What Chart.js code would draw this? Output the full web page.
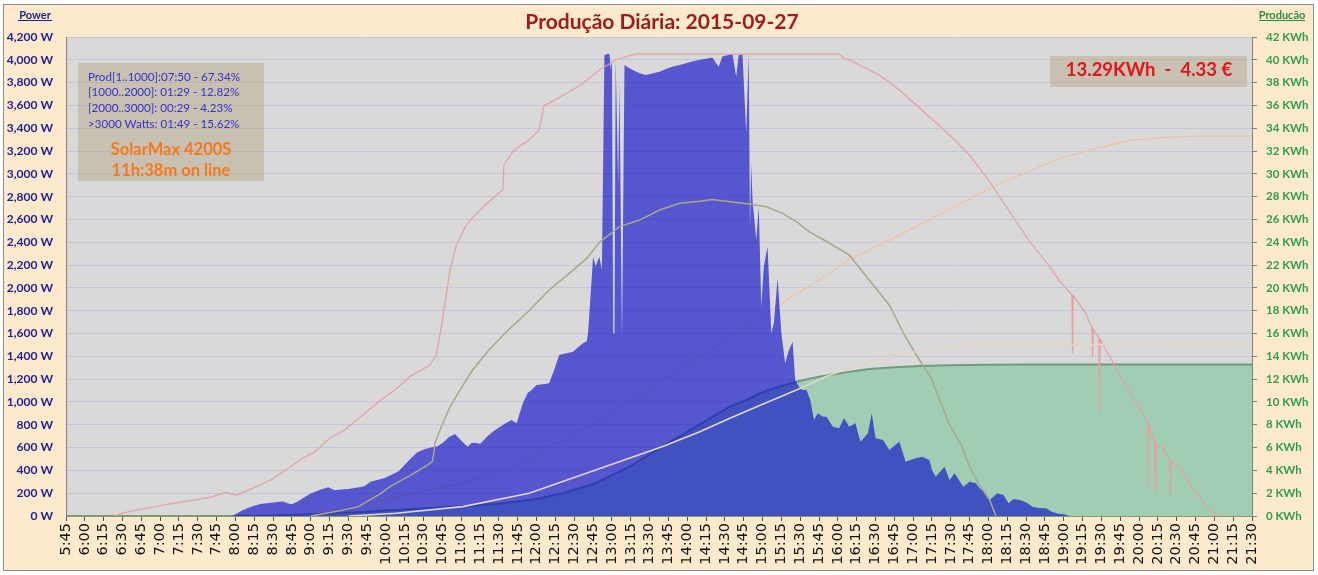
<!DOCTYPE html>
<html>
<head>
<meta charset="utf-8">
<script src="https://cdn.jsdelivr.net/npm/chart.js@4/dist/chart.umd.min.js"></script>
<style>
  body { margin: 0; background: #fff; }
</style>
</head>
<body>
<canvas id="chart" width="1318" height="575"></canvas>
<script>
// power (W) - left axis
var powerTimes = ['7:57','8:00','8:05','8:10','8:15','8:20','8:25','8:30','8:35','8:38','8:42','8:45','8:50','8:55',
  '9:00','9:05','9:10','9:14','9:19','9:24','9:30','9:35','9:40','9:43','9:48','9:53','9:59',
  '10:04','10:10','10:15','10:20','10:25','10:31','10:36','10:41','10:45','10:50','10:55',
  '11:00','11:05','11:08','11:11','11:15','11:20','11:25','11:30','11:35','11:40','11:44','11:49','11:53','11:56',
  '12:00','12:05','12:10','12:14','12:18','12:23','12:29','12:33','12:37','12:40','12:41','12:45','12:47','12:50','12:52','12:54','12:56','12:58','12:59',
  '13:00','13:01','13:02','13:03','13:05','13:06','13:08','13:10','13:15','13:22','13:27','13:32','13:38','13:43','13:48','13:54','13:59',
  '14:04','14:10','14:15','14:20','14:25','14:28','14:32','14:36','14:39','14:41','14:44','14:47','14:49','14:50','14:51','14:52','14:55','14:57','14:59',
  '15:01','15:04','15:07','15:09','15:12','15:15','15:18','15:21','15:24','15:26','15:29','15:32','15:35','15:38','15:41','15:44','15:48','15:51','15:56',
  '16:01','16:05','16:09','16:14','16:18','16:24','16:27','16:30','16:36','16:41','16:49','16:54',
  '17:02','17:07','17:13','17:15','17:18','17:25','17:29','17:33','17:40','17:45','17:50','17:53','17:58',
  '18:01','18:07','18:12','18:16','18:20','18:25','18:30','18:35','18:40','18:46','18:50','18:55','19:00','19:05'];
var powerWatts = [0,15,45,70,90,105,112,118,124,127,110,102,130,165,
  198,220,240,252,226,232,237,245,255,262,302,315,333,
  360,392,450,508,560,588,600,612,640,690,720,
  660,608,640,643,631,690,739,775,810,842,813,988,1080,1105,
  1149,1155,1163,1280,1412,1425,1441,1480,1514,1535,1604,2274,2190,2274,2157,4040,4050,4050,3911,
  4000,1600,1600,4000,2900,3800,1543,3955,3920,3882,3867,3880,3896,3920,3940,3955,3970,
  3985,4000,4010,4020,3940,4030,4040,4050,3852,4040,4050,3355,4050,2508,3093,2771,2420,2712,1835,
  2186,2361,1604,1690,2084,1604,1339,1456,1528,1192,1134,1105,1105,1017,842,900,871,870,783,
  769,857,783,813,652,725,900,681,666,579,652,476,
  506,520,491,403,345,432,316,374,257,300,287,243,199,
  140,199,184,111,150,140,120,82,70,67,40,23,15,0];

// max power record (W) - left axis
var maxTimes = ['6:24','6:30','6:45','7:00','7:10','7:20','7:31','7:42','7:50','7:53','7:57','8:01','8:10','8:28','8:40','8:51',
  '9:03','9:15','9:27','9:43','9:55','10:07','10:20','10:35','10:40','10:45','10:51','10:56','11:04','11:15','11:28','11:33','11:34','11:42','11:54',
  '12:02','12:06','12:10','12:24','12:37','12:50','13:03','13:18','16:01','16:05','16:09','16:25','16:33','16:49','17:05','17:13','17:15','17:29','17:45',
  '18:00','18:16','18:32','18:48','18:56','19:06.5','19:07','19:07.5','19:17.5','19:22.5','19:23','19:23.5','19:28','19:28.5','19:29','19:39','19:44','19:52',
  '20:00','20:03','20:07','20:07.5','20:08','20:10','20:12.5','20:13','20:13.5','20:15','20:18.6','20:24.5','20:25','20:25.5','20:28','20:32','20:42','20:48','20:50','20:58','21:03'];
var maxWatts = [0,25,60,90,111,128,146,170,200,208,190,184,225,316,400,491,
  560,681,754,900,1010,1105,1230,1324,1411,1718,2157,2376,2552,2683,2815,2858,3078,3209,3297,
  3385,3600,3620,3706,3794,3911,3998,4050,4050,4013,4000,3911,3867,3735,3580,3499,3480,3341,3165,
  2946,2683,2420,2201,2070,1940,1426,1935,1777,1650,1397,1640,1560,900,1550,1353,1250,1105,
  950,900,810,257,790,720,650,228,640,600,608,480,190,470,455,430,257,169,140,38,0];

// average power (W) - left axis
var avgTimes = ['9:00','9:20','9:38','9:56','10:03','10:20','10:33','10:37','10:38','10:39','10:44','10:51','10:59','11:09','11:22','11:36','11:53',
  '12:10','12:26','12:40','12:50','13:06','13:22','13:38','13:54','14:10','14:20','14:28','14:49','15:03','15:16','15:27','15:37','15:49',
  '16:09','16:25','16:41','16:53','17:05','17:14','17:29','17:39','17:45','17:52','18:01','18:06'];
var avgWatts = [0,40,82,199,257,360,447,480,550,640,783,958,1105,1280,1456,1616,1791,
  1982,2128,2259,2400,2537,2595,2683,2742,2760,2775,2765,2736,2712,2654,2581,2493,2420,
  2289,2070,1850,1587,1368,1220,800,608,432,287,140,0];

// energy produced today (KWh) - right axis
var prodTimes = ['5:45','8:00','8:30','9:00','9:15','9:45','10:00','10:35','11:00','11:28','12:00','12:21','12:47','13:14','13:40','14:07','14:34','14:47',
  '15:00','15:13','15:27','15:40','15:53','16:10','16:25','16:45','17:05','17:30','18:00','18:30','21:30'];
var prodKwh = [0,0,0.05,0.15,0.22,0.38,0.48,0.7,0.85,1.05,1.5,2.0,2.87,4.32,6.08,7.83,9.58,10.17,
  10.85,11.34,11.78,12.1,12.36,12.65,12.89,13.05,13.15,13.22,13.27,13.29,13.29];

// max energy record (KWh) - right axis
var maxProdTimes = ['9:00','9:10','9:19','9:45','10:10','10:35','11:02','11:28','11:55','12:21','12:47','13:14','13:40','14:10','14:31','15:10','15:49',
  '16:09','16:49','17:29','18:08','18:48','19:01','19:28','19:55','20:20','20:48','21:30'];
var maxProdKwh = [0,0.2,0.5,1.1,1.7,2.28,2.9,3.74,5.1,6.66,8.25,9.88,11.92,13.97,15.43,18.3,20.98,
  22.45,24.6,26.9,29.1,30.95,31.5,32.3,32.97,33.2,33.3,33.3];

// average energy (KWh) - right axis
var avgProdTimes = ['9:30','10:08','11:01','11:54','12:47','13:40','14:10','14:34','15:00','15:27','15:50','16:10','16:30','16:50','17:13','17:45','18:15','21:30'];
var avgProdKwh = [0,0.24,0.82,1.99,4.03,6.08,7.39,8.57,9.8,11.05,12.2,13.0,13.7,14.2,14.55,14.99,15.03,15.05];

var infoLines = ['Prod[1..1000]:07:50 - 67.34%', '[1000..2000]: 01:29 - 12.82%', '[2000..3000]: 00:29 - 4.23%', '>3000 Watts: 01:49 - 15.62%'];

function toMin(t) {
  var p = t.split(':');
  return parseInt(p[0], 10) * 60 + parseFloat(p[1]);
}
function pts(times, values) {
  return times.map(function (t, i) { return { x: toMin(t), y: values[i] }; });
}
function fmtTime(v) {
  var h = Math.floor(v / 60), m = Math.round(v % 60);
  return h + ':' + (m < 10 ? '0' : '') + m;
}

var decor = {
  id: 'decor',
  beforeDraw: function (chart) {
    var ctx = chart.ctx, a = chart.chartArea;
    ctx.save();
    ctx.fillStyle = '#ffffff';
    ctx.fillRect(0, 0, chart.width, chart.height);
    ctx.fillStyle = '#fdeacd';
    ctx.fillRect(3.5, 4.5, 1310, 566);
    ctx.strokeStyle = '#8c8c8c';
    ctx.lineWidth = 1;
    ctx.strokeRect(3.5, 4.5, 1310, 566);
    ctx.fillStyle = '#d9d9d9';
    ctx.fillRect(a.left, a.top, a.right - a.left, a.bottom - a.top);
    ctx.restore();
  },
  afterDraw: function (chart) {
    var ctx = chart.ctx;
    ctx.save();
    ctx.textBaseline = 'middle';

    // title
    ctx.textAlign = 'center';
    ctx.fillStyle = '#a01c1c';
    ctx.font = 'bold 21px Lato';
    ctx.fillText('Produção Diária: 2015-09-27', 662, 22);

    // axis headers
    ctx.font = 'bold 11px Lato';
    ctx.fillStyle = '#1c1c8c';
    ctx.fillText('Power', 35, 15);
    ctx.fillRect(18, 20, 34, 1);
    ctx.fillStyle = '#2d8c3c';
    ctx.fillText('Producão', 1282, 15);
    ctx.fillRect(1259, 20, 46, 1);

    // info box
    ctx.fillStyle = 'rgba(175,155,115,0.4)';
    ctx.fillRect(78, 63, 186, 118);
    ctx.textAlign = 'left';
    ctx.font = '11.6px Lato';
    ctx.fillStyle = '#3434c8';
    infoLines.forEach(function (s, i) { ctx.fillText(s, 88, 77 + i * 15.6); });
    ctx.textAlign = 'center';
    ctx.font = 'bold 16.5px Lato';
    ctx.fillStyle = '#f47a22';
    ctx.fillText('SolarMax 4200S', 171, 150);
    ctx.fillText('11h:38m on line', 171, 171);

    // value box
    ctx.fillStyle = 'rgba(175,155,115,0.4)';
    ctx.fillRect(1050, 56, 197, 31);
    ctx.font = 'bold 18.5px Lato';
    ctx.fillStyle = '#e3141c';
    ctx.fillText('13.29KWh  -  4.33 €', 1149, 70);
    ctx.restore();
  }
};

var ctx = document.getElementById('chart').getContext('2d');
var chart = new Chart(ctx, {
  type: 'line',
  data: {
    datasets: [
      {
        label: 'Média acumulada',
        data: pts(avgProdTimes, avgProdKwh),
        yAxisID: 'y1',
        borderColor: '#e4d6bc',
        borderWidth: 1.6,
        fill: false,
        order: 0
      },
      {
        label: 'Potência média',
        data: pts(avgTimes, avgWatts),
        yAxisID: 'y',
        borderColor: '#a8a88a',
        borderWidth: 1.5,
        fill: false,
        order: 0
      },
      {
        label: 'Potência máxima',
        data: pts(maxTimes, maxWatts),
        yAxisID: 'y',
        borderColor: '#e6a0a0',
        borderWidth: 1.2,
        fill: false,
        order: 0
      },
      {
        label: 'Potência',
        data: pts(powerTimes, powerWatts),
        yAxisID: 'y',
        borderWidth: 0,
        borderColor: 'rgba(10,10,200,0.63)',
        backgroundColor: 'rgba(10,10,200,0.63)',
        fill: 'origin',
        order: 1
      },
      {
        label: 'Máximo acumulado',
        data: pts(maxProdTimes, maxProdKwh),
        yAxisID: 'y1',
        borderColor: '#edc4a2',
        borderWidth: 1.3,
        fill: false,
        order: 2
      },
      {
        label: 'Produção',
        data: pts(prodTimes, prodKwh),
        yAxisID: 'y1',
        borderColor: '#6f9c7c',
        borderWidth: 2,
        backgroundColor: '#a0cdb4',
        fill: 'origin',
        order: 3
      }
    ]
  },
  options: {
    responsive: false,
    animation: false,
    elements: { point: { radius: 0 }, line: { tension: 0 } },
    layout: { padding: { top: 37, left: 0, right: 0, bottom: 0 } },
    plugins: { legend: { display: false }, tooltip: { enabled: false } },
    scales: {
      x: {
        type: 'linear',
        min: 345,
        max: 1290,
        afterFit: function (s) { s.height = 59; },
        ticks: {
          stepSize: 15,
          maxTicksLimit: 200,
          autoSkip: false,
          minRotation: 90,
          maxRotation: 90,
          padding: 2,
          color: '#111111',
          font: { family: 'DejaVu Sans', size: 14.5 },
          callback: function (v) { return fmtTime(v); }
        },
        grid: { drawOnChartArea: false, drawTicks: true, tickLength: 5, color: '#555555' },
        border: { color: '#8a9a6a' }
      },
      y: {
        position: 'left',
        min: 0,
        max: 4200,
        afterFit: function (s) { s.width = 66; },
        ticks: {
          stepSize: 200,
          maxTicksLimit: 100,
          padding: 13,
          color: '#1d1d96',
          font: { family: 'Lato', weight: 'bold', size: 12 },
          callback: function (v) { return v.toLocaleString('en-US') + ' W'; }
        },
        grid: { color: '#c6c6da', drawTicks: false },
        border: { color: '#7f7f7f' }
      },
      y1: {
        position: 'right',
        min: 0,
        max: 42,
        afterFit: function (s) { s.width = 66; },
        ticks: {
          stepSize: 1,
          maxTicksLimit: 100,
          padding: 9,
          color: '#2e9e4a',
          font: { family: 'Lato', weight: 'bold', size: 11.5 },
          callback: function (v) { return v % 2 === 0 ? v + ' KWh' : ''; }
        },
        grid: { drawOnChartArea: false, tickLength: 5, color: '#7f7f7f' },
        border: { color: '#7f7f7f' }
      }
    }
  },
  plugins: [decor]
});
</script>
</body>
</html>
